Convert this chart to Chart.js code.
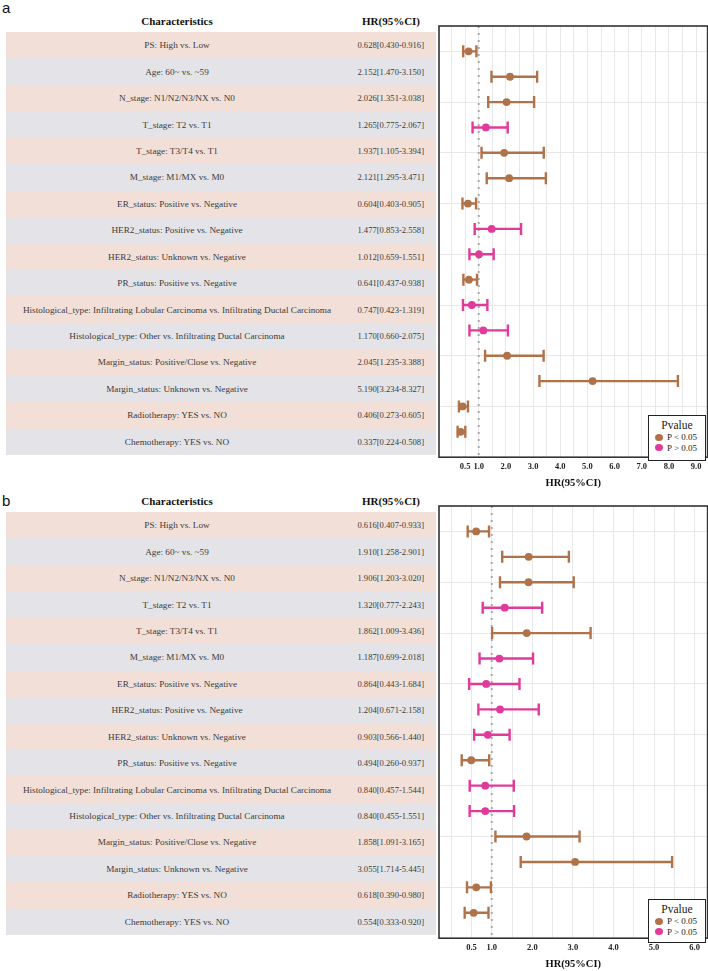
<!DOCTYPE html>
<html>
<head>
<meta charset="utf-8">
<script src="https://cdn.jsdelivr.net/npm/chart.js@4.4.1/dist/chart.umd.min.js"></script>
<style>
  body { margin: 0; width: 708px; height: 971px; position: relative; background: #fff; overflow: hidden;
         font-family: "Liberation Serif", "Times New Roman", serif; }
  .tag { position: absolute; left: 2px; font-family: "Liberation Sans", Arial, sans-serif; font-size: 15px; color: #111; line-height: 1; }
  .head { position: absolute; font-weight: bold; font-size: 11px; color: #111; text-align: center; line-height: 13px; }
  .row { position: absolute; left: 6px; width: 430px; height: 26.44px; display: flex; align-items: center; color: #3a3a3a; }
  .row .lab { width: 342px; text-align: center; white-space: nowrap; font-size: 9.2px; }
  .row .val { width: 76px; text-align: right; white-space: nowrap; font-size: 8.6px; }
  .peach { background: #f2e0d8; }
  .grey { background: #e4e4e8; }
  canvas { position: absolute; left: 430px; }
  .legend { position: absolute; left: 648px; width: 58px; box-sizing: border-box; border: 1.5px solid #222;
            background: #fff; z-index: 2; font-size: 9px; color: #222; }
  .legend .t { text-align: center; font-size: 11.5px; margin-top: 3px; line-height: 13px; }
  .legend .it { display: flex; align-items: center; height: 10.5px; padding-left: 6px; }
  .legend .dot { width: 8px; height: 7px; border-radius: 50%; margin-right: 4px; }
</style>
</head>
<body>
<div id="root"></div>
<script>
const characteristics = [
  'PS: High vs. Low',
  'Age: 60~ vs. ~59',
  'N_stage: N1/N2/N3/NX vs. N0',
  'T_stage: T2 vs. T1',
  'T_stage: T3/T4 vs. T1',
  'M_stage: M1/MX vs. M0',
  'ER_status: Positive vs. Negative',
  'HER2_status: Positive vs. Negative',
  'HER2_status: Unknown vs. Negative',
  'PR_status: Positive vs. Negative',
  'Histological_type: Infiltrating Lobular Carcinoma vs. Infiltrating Ductal Carcinoma',
  'Histological_type: Other vs. Infiltrating Ductal Carcinoma',
  'Margin_status: Positive/Close vs. Negative',
  'Margin_status: Unknown vs. Negative',
  'Radiotherapy: YES vs. NO',
  'Chemotherapy: YES vs. NO'
];

// panel a
const hrA = [0.628, 2.152, 2.026, 1.265, 1.937, 2.121, 0.604, 1.477, 1.012, 0.641, 0.747, 1.170, 2.045, 5.190, 0.406, 0.337];
const loA = [0.430, 1.470, 1.351, 0.775, 1.105, 1.295, 0.403, 0.853, 0.659, 0.437, 0.423, 0.660, 1.235, 3.234, 0.273, 0.224];
const hiA = [0.916, 3.150, 3.038, 2.067, 3.394, 3.471, 0.905, 2.558, 1.551, 0.938, 1.319, 2.075, 3.388, 8.327, 0.605, 0.508];
const sigA = [1, 1, 1, 0, 1, 1, 1, 0, 0, 1, 0, 0, 1, 1, 1, 1];
const tickLabelsA = [0.5, 1, 2, 3, 4, 5, 6, 7, 8, 9];

// panel b
const hrB = [0.616, 1.910, 1.906, 1.320, 1.862, 1.187, 0.864, 1.204, 0.903, 0.494, 0.840, 0.840, 1.858, 3.055, 0.618, 0.554];
const loB = [0.407, 1.258, 1.203, 0.777, 1.009, 0.699, 0.443, 0.671, 0.566, 0.260, 0.457, 0.455, 1.091, 1.714, 0.390, 0.333];
const hiB = [0.933, 2.901, 3.020, 2.243, 3.436, 2.018, 1.684, 2.158, 1.440, 0.937, 1.544, 1.551, 3.165, 5.445, 0.980, 0.920];
const sigB = [1, 1, 1, 0, 1, 0, 0, 0, 0, 1, 0, 0, 1, 1, 1, 1];
const tickLabelsB = [0.5, 1, 2, 3, 4, 5, 6];

const BROWN = '#b07249';
const PINK = '#e03a9b';
const SERIF = '"Liberation Serif", "Times New Roman", serif';

const root = document.getElementById('root');

function buildPanel(tag, top, hr, lo, hi, sig, xMin, xMax, tickLabels, canvasH, padBottom, legendTop, legendH) {
  root.insertAdjacentHTML('beforeend', `<div class="tag" style="top:${top + (tag === 'b' ? 13 : 0)}px">${tag}</div>`);
  root.insertAdjacentHTML('beforeend', `<div class="head" style="left:6px;width:342px;top:${top + 15}px">Characteristics</div>`);
  root.insertAdjacentHTML('beforeend', `<div class="head" style="left:348px;width:86px;top:${top + 15}px">HR(95%CI)</div>`);
  characteristics.forEach((c, i) => {
    const txt = `${hr[i].toFixed(3)}[${lo[i].toFixed(3)}-${hi[i].toFixed(3)}]`;
    root.insertAdjacentHTML('beforeend',
      `<div class="row ${i % 2 ? 'grey' : 'peach'}" style="top:${top + 32 + i * 26.44}px"><div class="lab">${c}</div><div class="val">${txt}</div></div>`);
  });
  root.insertAdjacentHTML('beforeend',
    `<div class="legend" style="top:${legendTop}px;height:${legendH}px"><div class="t">Pvalue</div>
      <div class="it"><span class="dot" style="background:${BROWN}"></span>P &lt; 0.05</div>
      <div class="it"><span class="dot" style="background:${PINK}"></span>P &gt; 0.05</div></div>`);

  // canvas runs a little past the right edge; Chart.js keeps ~8px spare on that side
  const cv = document.createElement('canvas');
  cv.width = 286; cv.height = canvasH;
  cv.style.top = (top + 16) + 'px';
  root.appendChild(cv);

  const colorOf = i => sig[i] ? BROWN : PINK;

  const whiskers = characteristics.map((c, i) => ({
    data: [{ x: lo[i], y: i + 1 }, { x: hi[i], y: i + 1 }],
    showLine: true,
    borderColor: colorOf(i),
    borderWidth: 2.4,
    pointStyle: 'line',
    rotation: 90,
    pointRadius: 6,
    pointBorderWidth: 2.4,
    pointBorderColor: colorOf(i),
    order: 2
  }));

  new Chart(cv, {
    type: 'scatter',
    data: {
      datasets: [
        {
          data: [{ x: 1, y: 0 }, { x: 1, y: 17 }],
          showLine: true,
          borderColor: '#a9a9a9',
          borderWidth: 2,
          borderDash: [2, 5],
          pointRadius: 0,
          order: 3
        },
        ...whiskers,
        {
          data: hr.map((v, i) => ({ x: v, y: i + 1 })),
          pointRadius: 3.9,
          pointBackgroundColor: hr.map((v, i) => colorOf(i)),
          pointBorderColor: hr.map((v, i) => colorOf(i)),
          pointBorderWidth: 0,
          order: 1
        }
      ]
    },
    options: {
      responsive: false,
      animation: false,
      layout: { padding: { top: 10, left: 9, right: 2, bottom: padBottom } },
      plugins: { legend: { display: false }, tooltip: { enabled: false } },
      scales: {
        x: {
          min: xMin, max: xMax,
          border: { display: false },
          grid: { color: '#e8e8e8', lineWidth: 1, drawTicks: false },
          afterBuildTicks: scale => {
            // grid every 0.5 from 0 up to the last labelled tick
            const last = tickLabels[tickLabels.length - 1];
            const t = [];
            for (let k = 0; k <= last * 2; k++) t.push({ value: k / 2 });
            scale.ticks = t;
          },
          ticks: {
            autoSkip: false, maxRotation: 0, padding: 4,
            color: '#222',
            font: { family: SERIF, size: 8.5, weight: 'bold' },
            callback: v => tickLabels.includes(v) ? v.toFixed(1) : ''
          },
          title: {
            display: true, text: 'HR(95%CI)', color: '#111',
            font: { family: SERIF, size: 10.5, weight: 'bold' },
            padding: { top: 2, bottom: 0 }
          }
        },
        y: {
          min: 0, max: 17, reverse: true,
          border: { display: false },
          ticks: { display: false, stepSize: 1 },
          grid: {
            drawTicks: false,
            color: ctx => (ctx.tick && ctx.tick.value % 2 === 1 && ctx.tick.value < 16) ? '#e8e8e8' : 'rgba(0,0,0,0)'
          }
        }
      }
    },
    plugins: [{
      id: 'box',
      afterDraw(chart) {
        const a = chart.chartArea, g = chart.ctx;
        g.save();
        g.strokeStyle = '#333';
        g.lineWidth = 1.6;
        g.strokeRect(a.left, a.top, a.right - a.left, a.bottom - a.top);
        g.restore();
      }
    }]
  });
}

buildPanel('a', 0, hrA, loA, hiA, sigA, -0.46, 9.42, tickLabelsA, 476, 2, 415, 46);
buildPanel('b', 480, hrB, loB, hiB, sigB, -0.30, 6.32, tickLabelsB, 475, 0, 899, 44);
</script>
</body>
</html>
